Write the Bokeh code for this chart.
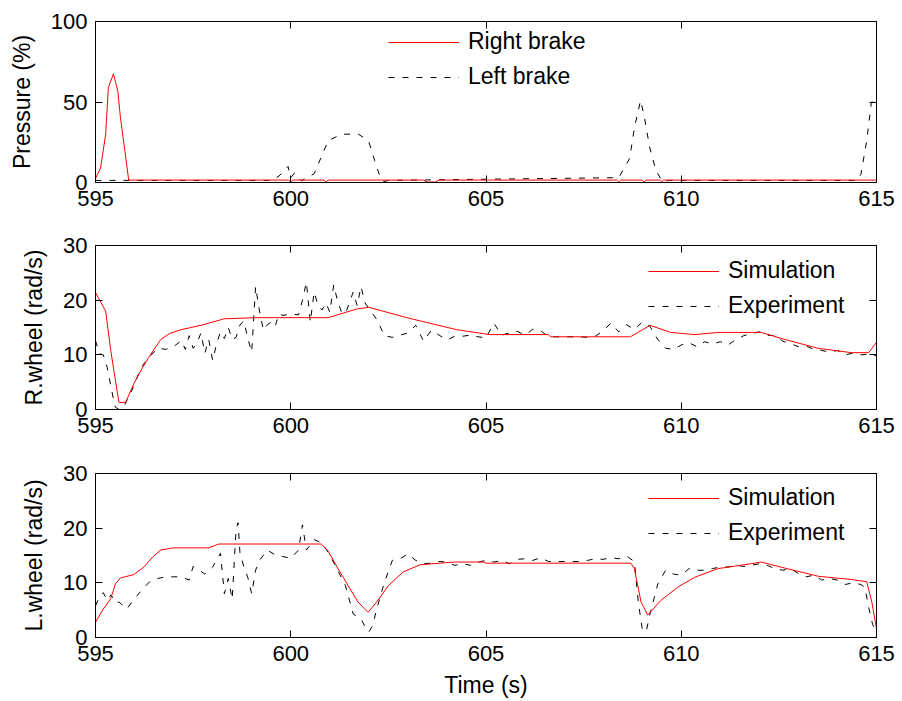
from bokeh.plotting import figure
from bokeh.layouts import column
from bokeh.models import (Range1d, LinearAxis, FixedTicker, Legend, LegendItem,
                          CustomJSTickFormatter)
from bokeh.embed import file_html
from bokeh.resources import INLINE

# ---------------- data ----------------
x_ticks = [595, 600, 605, 610, 615]

# Top panel: brake pressure (%)
t_right_brake = [595.0, 595.13, 595.26, 595.33, 595.46, 595.57, 595.64, 595.75, 595.85,
                 596.0, 599.95, 600.0, 600.05, 600.85, 600.9, 600.95, 603.4, 603.5,
                 603.7, 603.8, 608.35, 608.4, 608.45, 609.0, 609.05, 609.1, 609.45,
                 609.5, 609.55, 615.0]
right_brake = [2.5, 9.0, 30.0, 59.0, 67.5, 57.0, 40.0, 20.0, 1.5,
               1.5, 1.5, 0.3, 1.5, 1.5, 0.3, 1.5, 1.5, 0.3,
               0.3, 1.5, 1.5, 0.3, 1.5, 1.5, 0.3, 1.5, 1.5,
               0.3, 1.5, 1.5]
t_left_brake = [595.0, 599.5, 599.7, 599.93, 600.0, 600.1, 600.27, 600.6, 600.96, 601.3,
                601.73, 601.99, 602.15, 602.28, 602.37, 602.5, 608.4, 608.68, 608.8,
                608.96, 609.06, 609.19, 609.35, 609.52, 609.7, 614.5, 614.6, 614.75,
                614.87, 615.0]
left_brake = [1.3, 1.3, 4.0, 10.0, 3.0, 6.0, 1.0, 5.5, 26.0, 30.0,
              30.0, 26.0, 13.6, 4.0, 0.5, 1.3, 3.0, 15.0, 34.0,
              51.0, 40.0, 22.0, 7.5, 0.5, 1.3, 1.3, 5.0, 26.0,
              50.0, 52.0]

# Middle panel: right wheel speed (rad/s)
t_sim_r = [595.0, 595.26, 595.39, 595.6, 595.77, 595.98, 596.1, 596.2, 596.36, 596.67,
           596.9, 597.19, 597.7, 598.3, 599.16, 600.96, 601.7, 602.0, 602.97, 604.25,
           605.1, 606.6, 606.65, 608.7, 609.2, 609.73, 610.35, 610.95, 612.05, 612.66,
           613.5, 614.36, 614.8, 615.0]
sim_r = [21.4, 18.0, 10.8, 1.3, 1.3, 4.7, 6.3, 7.6, 9.5, 12.8,
         13.9, 14.6, 15.4, 16.6, 16.8, 16.8, 18.4, 18.7, 16.8, 14.6,
         13.7, 13.7, 13.3, 13.3, 15.4, 14.1, 13.7, 14.1, 14.1, 12.8,
         11.2, 10.4, 10.4, 12.3]
t_exp_r = [595.0, 595.1, 595.2, 595.3, 595.4, 595.5, 595.6, 595.7, 595.8, 595.9,
           596.0, 596.1, 596.2, 596.4, 596.6, 596.8, 597.0, 597.2, 597.3, 597.4,
           597.5, 597.6, 597.7, 597.8, 597.9, 598.0, 598.1, 598.2, 598.3, 598.4,
           598.5, 598.6, 598.7, 598.8, 598.9, 599.0, 599.1, 599.2, 599.3, 599.4,
           599.5, 599.6, 599.7, 599.8, 600.0, 600.2, 600.3, 600.4, 600.5, 600.6,
           600.7, 600.8, 600.9, 601.0, 601.1, 601.2, 601.3, 601.4, 601.5, 601.6,
           601.7, 601.8, 601.9, 602.0, 602.2, 602.4, 602.6, 602.8, 603.0, 603.2,
           603.4, 603.6, 603.8, 604.0, 604.2, 604.4, 604.6, 604.8, 605.0, 605.2,
           605.4, 605.6, 605.8, 606.0, 606.2, 606.4, 606.6, 606.8, 607.0, 607.2,
           607.4, 607.6, 607.8, 608.0, 608.2, 608.4, 608.6, 608.8, 609.0, 609.2,
           609.4, 609.6, 609.8, 610.0, 610.2, 610.4, 610.6, 610.8, 611.0, 611.2,
           611.4, 611.6, 611.8, 612.0, 612.2, 612.4, 612.6, 612.8, 613.0, 613.2,
           613.4, 613.6, 613.8, 614.0, 614.2, 614.4, 614.6, 614.8, 615.0]
exp_r = [12.6, 10.2, 10.0, 7.7, 4.0, 0.5, 0.0, 0.2, 1.6, 3.0,
         4.6, 6.5, 8.0, 9.8, 11.2, 11.0, 11.5, 12.6, 11.0, 13.5,
         11.2, 12.2, 14.0, 10.3, 12.8, 9.0, 12.0, 14.2, 13.0, 15.0,
         12.8, 13.2, 15.5, 16.2, 13.0, 10.5, 22.5, 18.0, 14.5, 15.5,
         16.0, 15.2, 17.5, 17.2, 17.5, 17.3, 20.0, 23.3, 16.0, 21.5,
         19.0, 18.2, 19.5, 17.8, 22.8, 19.8, 17.8, 17.5, 19.5, 21.5,
         19.0, 22.5, 19.5, 18.5, 16.5, 13.5, 13.2, 13.6, 14.0, 15.4,
         12.5, 14.5, 13.6, 12.7, 13.4, 13.4, 13.6, 13.3, 13.1, 15.8,
         13.6, 14.0, 14.3, 13.6, 14.7, 14.4, 13.3, 13.3, 13.3, 13.3,
         13.3, 13.2, 13.4, 14.4, 15.8, 14.2, 15.5, 14.6, 16.0, 15.2,
         12.8, 11.2, 11.0, 11.8, 12.2, 11.5, 12.4, 12.0, 12.4, 11.8,
         12.8, 13.5, 13.9, 14.2, 13.6, 13.5, 12.5, 12.0, 11.5, 11.6,
         11.0, 10.8, 10.5, 10.8, 10.0, 10.3, 10.0, 10.1, 9.8]

# Bottom panel: left wheel speed (rad/s)
t_sim_l = [595.0, 595.2, 595.39, 595.51, 595.64, 595.98, 596.24, 596.46, 596.67, 597.0,
           597.9, 598.16, 600.78, 600.95, 601.21, 601.47, 601.72, 601.98, 602.2, 602.5,
           602.88, 603.31, 604.17, 604.94, 605.0, 608.71, 608.8, 608.97, 609.14, 609.48,
           609.91, 610.34, 610.94, 611.79, 612.05, 612.65, 613.51, 614.37, 614.75, 614.88,
           615.0]
sim_l = [2.8, 5.2, 7.1, 9.8, 10.9, 11.5, 12.9, 14.7, 16.0, 16.4,
         16.4, 17.1, 17.1, 15.9, 12.6, 9.5, 6.5, 4.6, 6.5, 9.5,
         12.0, 13.3, 13.8, 13.8, 13.6, 13.6, 12.6, 6.5, 4.1, 6.8,
         9.2, 11.0, 12.6, 13.5, 13.8, 12.7, 11.2, 10.6, 10.2, 6.5,
         1.6]
t_exp_l = [595.0, 595.1, 595.2, 595.3, 595.4, 595.5, 595.6, 595.8, 596.0, 596.2,
           596.4, 596.6, 596.8, 597.0, 597.2, 597.4, 597.5, 597.6, 597.8, 598.0,
           598.2, 598.3, 598.4, 598.5, 598.6, 598.65, 598.7, 598.8, 598.9, 599.0,
           599.1, 599.2, 599.4, 599.6, 599.8, 600.0, 600.2, 600.3, 600.4, 600.6,
           600.8, 601.0, 601.2, 601.4, 601.6, 601.8, 601.9, 602.0, 602.1, 602.2,
           602.4, 602.6, 602.8, 603.0, 603.2, 603.4, 603.6, 603.8, 604.0, 604.2,
           604.4, 604.6, 604.8, 605.0, 605.2, 605.4, 605.6, 605.8, 606.0, 606.2,
           606.4, 606.6, 606.8, 607.0, 607.2, 607.4, 607.6, 607.8, 608.0, 608.2,
           608.4, 608.6, 608.8, 608.9, 609.0, 609.1, 609.2, 609.4, 609.6, 609.8,
           610.0, 610.2, 610.4, 610.6, 610.8, 611.0, 611.2, 611.4, 611.6, 611.8,
           612.0, 612.2, 612.4, 612.6, 612.8, 613.0, 613.2, 613.4, 613.6, 613.8,
           614.0, 614.2, 614.4, 614.6, 614.7, 614.8, 614.9, 615.0]
exp_l = [5.8, 7.4, 8.2, 6.8, 7.8, 6.4, 6.5, 5.2, 7.1, 8.8,
         10.3, 10.8, 11.1, 11.1, 11.1, 10.5, 13.0, 12.6, 11.6, 12.9,
         15.4, 8.0, 10.8, 7.0, 19.8, 21.0, 15.4, 12.9, 11.0, 8.0,
         12.3, 14.1, 16.0, 15.1, 14.8, 14.5, 16.0, 20.6, 16.0, 17.9,
         17.3, 15.1, 12.3, 9.5, 4.3, 3.4, 2.0, 1.0, 2.2, 5.2,
         10.1, 14.1, 14.4, 15.3, 14.1, 13.5, 13.6, 13.9, 13.8, 13.2,
         13.5, 13.2, 13.8, 14.1, 13.8, 14.1, 13.5, 14.3, 14.4, 14.1,
         14.6, 13.9, 13.9, 13.9, 13.9, 13.9, 14.1, 14.4, 14.3, 14.6,
         14.4, 14.9, 13.9, 6.5, 1.6, 1.0, 4.3, 9.8, 12.3, 11.6,
         11.4, 12.6, 12.3, 12.3, 12.6, 12.9, 12.9, 13.2, 13.0, 13.2,
         13.5, 13.2, 12.6, 12.3, 12.6, 11.7, 11.1, 11.4, 10.5, 10.8,
         10.5, 9.7, 10.0, 9.7, 9.2, 5.5, 2.4, 0.8]

# ---------------- styling ----------------
FONT = "Liberation Sans"
FS = "22px"
FS_LABEL = "23px"
RED = "#ff0000"
DASH = "6 8"
blank = CustomJSTickFormatter(code="return ''")


def make_panel(height, top, bottom, ymax, yticks, ylabel, xlabel=None):
    p = figure(width=902, height=height, output_backend="svg", toolbar_location=None,
               x_range=Range1d(595, 615), y_range=Range1d(0, ymax),
               min_border_left=95, min_border_right=26,
               min_border_top=top, min_border_bottom=bottom)
    p.background_fill_color = "white"
    p.border_fill_color = "white"
    p.outline_line_color = "black"
    p.outline_line_width = 1
    p.xgrid.visible = False
    p.ygrid.visible = False
    for ax in (p.xaxis[0], p.yaxis[0]):
        ax.major_tick_in = 7
        ax.major_tick_out = 0
        ax.minor_tick_line_color = None
        ax.axis_line_color = "black"
        ax.major_tick_line_color = "black"
        ax.major_label_text_font = FONT
        ax.major_label_text_font_size = FS
        ax.major_label_text_color = "black"
        ax.axis_label_text_font = FONT
        ax.axis_label_text_font_size = FS_LABEL
        ax.axis_label_text_font_style = "normal"
        ax.axis_label_text_color = "black"
    p.xaxis.ticker = FixedTicker(ticks=x_ticks)
    p.yaxis.ticker = FixedTicker(ticks=yticks)
    p.xaxis.major_label_standoff = 8
    p.yaxis.major_label_standoff = 8
    p.yaxis.axis_label = ylabel
    p.yaxis.axis_label_standoff = 13
    if xlabel:
        p.xaxis.axis_label = xlabel
        p.xaxis.axis_label_standoff = 8
    # mirrored tick axes (top / right)
    top_ax = LinearAxis(ticker=FixedTicker(ticks=x_ticks), formatter=blank,
                        major_tick_in=7, major_tick_out=0, minor_tick_line_color=None,
                        axis_line_color="black", major_label_standoff=0)
    right_ax = LinearAxis(ticker=FixedTicker(ticks=yticks), formatter=blank,
                          major_tick_in=7, major_tick_out=0, minor_tick_line_color=None,
                          axis_line_color="black", major_label_standoff=0)
    p.add_layout(top_ax, "above")
    p.add_layout(right_ax, "right")
    return p


def add_legend(p, items, vx, vy):
    leg = Legend(items=items, location=(vx, vy), border_line_alpha=0,
                 background_fill_alpha=0, label_text_font=FONT,
                 label_text_font_size=FS_LABEL,
                 label_text_color="black", glyph_width=71, glyph_height=22,
                 label_height=22, label_standoff=9, spacing=8, padding=0, margin=0)
    p.add_layout(leg)


# Top
p1 = make_panel(216, 21, 34, 100, [0, 50, 100], "Pressure (%)")
lb = p1.line(t_left_brake, left_brake, line_color="black", line_width=1, line_dash=DASH)
rb = p1.line(t_right_brake, right_brake, line_color=RED, line_width=1)
add_legend(p1, [LegendItem(label="Right brake", renderers=[rb]),
                LegendItem(label="Left brake", renderers=[lb])], 293, 92)

# Middle
p2 = make_panel(224, 29, 31, 30, [0, 10, 20, 30], "R.wheel (rad/s)")
er = p2.line(t_exp_r, exp_r, line_color="black", line_width=1, line_dash=DASH)
sr = p2.line(t_sim_r, sim_r, line_color=RED, line_width=1)
add_legend(p2, [LegendItem(label="Simulation", renderers=[sr]),
                LegendItem(label="Experiment", renderers=[er])], 553, 90)

# Bottom
p3 = make_panel(261, 33, 64, 30, [0, 10, 20, 30], "L.wheel (rad/s)", xlabel="Time (s)")
el = p3.line(t_exp_l, exp_l, line_color="black", line_width=1, line_dash=DASH)
sl = p3.line(t_sim_l, sim_l, line_color=RED, line_width=1)
add_legend(p3, [LegendItem(label="Simulation", renderers=[sl]),
                LegendItem(label="Experiment", renderers=[el])], 553, 91)

layout = column(p1, p2, p3, spacing=0)
open("out.html", "w").write(file_html(layout, INLINE))
